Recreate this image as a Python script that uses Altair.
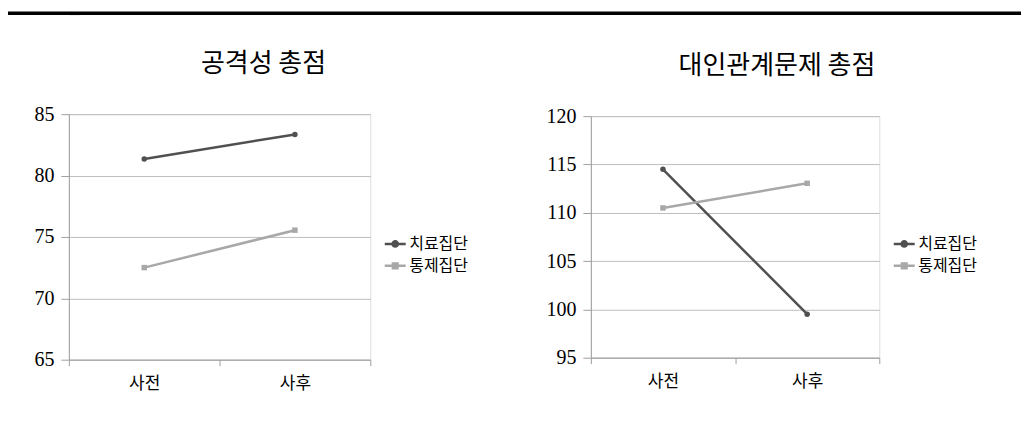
import altair as alt
import pandas as pd

# ---- data ----
phases = ["사전", "사후"]
groups = ["치료집단", "통제집단"]
aggr_treat = [81.35, 83.35]
aggr_ctrl = [72.5, 75.55]
inter_treat = [114.5, 99.5]
inter_ctrl = [110.5, 113.05]
titles = ["공격성 총점", "대인관계문제 총점"]
y_ticks_left = [65, 70, 75, 80, 85]
y_ticks_right = [95, 100, 105, 110, 115, 120]
markers = ["circle", "square"]

KFONT = "Noto Sans CJK KR"
NFONT = "Liberation Serif"
DARK = "#505050"
LIGHT = "#a8a8a8"
GRID = "#bdbdbd"
AXIS = "#a0a0a0"

LEG_SHAPES = [
    "M-1,0H1M-0.25,0A0.25,0.25 0 1,0 0.25,0A0.25,0.25 0 1,0 -0.25,0Z",
    "M-1,0H1M-0.22,-0.22H0.22V0.22H-0.22Z",
]


def make_df(treat, ctrl):
    rows = []
    for g, m, vals in zip(groups, markers, [treat, ctrl]):
        for p, v in zip(phases, vals):
            rows.append({"시점": p, "집단": g, "값": v, "marker": m})
    return pd.DataFrame(rows)


def panel(df, title, ticks, w, h, title_dx, leg_x, leg_y):
    color = alt.Color(
        "집단:N",
        scale=alt.Scale(domain=groups, range=[DARK, LIGHT]),
        legend=alt.Legend(
            orient="none", legendX=leg_x, legendY=leg_y, title=None,
            labelFont=KFONT, labelFontSize=16, labelColor="black",
            symbolSize=441, symbolStrokeWidth=2.5, symbolOpacity=1,
            labelOffset=2, rowPadding=2, padding=0,
        ),
    )
    x = alt.X(
        "시점:N", sort=phases,
        scale=alt.Scale(paddingInner=0, paddingOuter=0),
        axis=alt.Axis(
            title=None, labelAngle=0, labelFont=KFONT, labelFontSize=17,
            labelColor="black", tickBand="extent", tickSize=6,
            tickColor=AXIS, domainColor=AXIS, labelPadding=10, grid=False,
        ),
    )
    y = alt.Y(
        "값:Q",
        scale=alt.Scale(domain=[ticks[0], ticks[-1]], nice=False, zero=False),
        axis=alt.Axis(
            title=None, values=ticks, labelFont=NFONT, labelFontSize=20,
            labelColor="black", tickSize=8, tickColor=AXIS,
            domainColor=AXIS, gridColor=GRID, labelPadding=7,
        ),
    )
    base = alt.Chart(df)
    line = base.mark_line(strokeWidth=2.5).encode(x=x, y=y, color=color, detail="집단:N")
    pts = base.mark_point(filled=True, size=30, opacity=1).encode(
        x=x, y=y, color=color, shape=alt.Shape("marker:N", scale=None)
    )
    leg = base.mark_point(filled=True, opacity=0).encode(
        x=x, y=y, color=color,
        shape=alt.Shape("집단:N", scale=alt.Scale(domain=groups, range=LEG_SHAPES)),
    )
    return alt.layer(line, pts, leg).properties(
        width=w, height=h,
        title=alt.TitleParams(
            title, font=KFONT, fontSize=26, fontWeight="normal", color="black",
            anchor="middle", frame="group", dx=title_dx, offset=27,
        ),
    )


left = panel(make_df(aggr_treat, aggr_ctrl), titles[0], y_ticks_left, 302, 246, 44, 315, 118)
right = panel(make_df(inter_treat, inter_ctrl), titles[1], y_ticks_right, 289, 242, 42, 302, 116)

row = alt.hconcat(left, right, spacing=221, bounds="flush", center=True).resolve_legend(
    color="independent", shape="independent"
).resolve_scale(color="independent", shape="independent")

top_rule = alt.Chart(pd.DataFrame({"v": [0]})).mark_rule(color="black", strokeWidth=3.5).encode(
    x=alt.value(-61), x2=alt.value(954), y=alt.value(0)
).properties(width=10, height=1)

chart = alt.vconcat(top_rule, row, spacing=100, bounds="flush").properties(
    padding={"left": 5, "top": 10, "right": 0, "bottom": 5}
).configure_view(stroke=None).configure(background="white")

chart.save("out.html", embed_options={"renderer": "svg", "actions": False})
